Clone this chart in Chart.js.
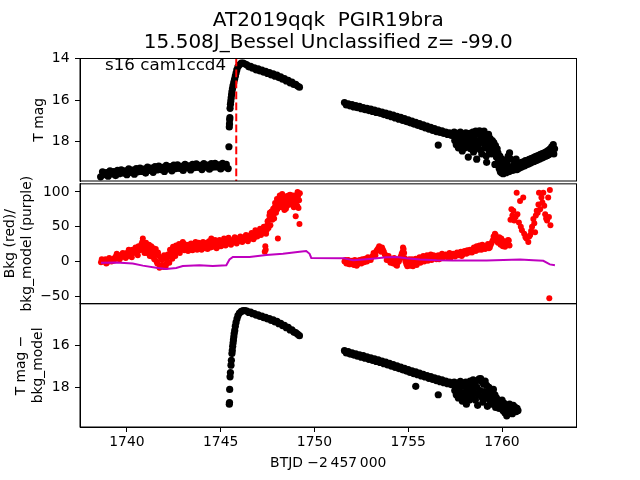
<!DOCTYPE html>
<html>
<head>
<meta charset="utf-8">
<script src="https://cdn.jsdelivr.net/npm/chart.js@4.4.1/dist/chart.umd.min.js"></script>
<style>
  body { margin: 0; background: #fff; }
  #wrap { position: relative; width: 640px; height: 480px; overflow: hidden; }
  canvas { position: absolute; left: 0; }
</style>
</head>
<body>
<div id="wrap">
  <canvas id="c2" width="640" height="150" style="top:170px"></canvas>
  <canvas id="c3" width="640" height="190" style="top:290px"></canvas>
  <canvas id="c1" width="640" height="195" style="top:0px"></canvas>
</div>
<script>
// ---- data: [BTJD-2457000, value] ----
const peakDay = 1745.83;   // red dashed marker in the top panel

// T mag before the outburst
const quiet = [[1738.6, 19.7], [1738.7, 19.46], [1738.8, 19.6], [1738.9, 19.5], [1739.0, 19.67],
  [1739.1, 19.41], [1739.2, 19.56], [1739.3, 19.45], [1739.4, 19.64], [1739.5, 19.39],
  [1739.6, 19.55], [1739.7, 19.36], [1739.8, 19.52], [1739.9, 19.41], [1740.0, 19.6],
  [1740.1, 19.32], [1740.2, 19.48], [1740.3, 19.37], [1740.4, 19.57], [1740.5, 19.3],
  [1740.6, 19.46], [1740.7, 19.28], [1740.8, 19.44], [1740.9, 19.33], [1741.0, 19.52],
  [1741.1, 19.23], [1741.2, 19.39], [1741.3, 19.28], [1741.4, 19.48], [1741.5, 19.21],
  [1741.6, 19.37], [1741.7, 19.18], [1741.8, 19.35], [1741.9, 19.24], [1742.0, 19.44],
  [1742.1, 19.15], [1742.2, 19.32], [1742.3, 19.21], [1742.4, 19.41], [1742.5, 19.14],
  [1742.6, 19.3], [1742.7, 19.12], [1742.8, 19.29], [1742.9, 19.19], [1743.0, 19.39],
  [1743.1, 19.1], [1743.2, 19.27], [1743.3, 19.17], [1743.4, 19.37], [1743.5, 19.1],
  [1743.6, 19.26], [1743.7, 19.07], [1743.8, 19.25], [1743.9, 19.15], [1744.0, 19.35],
  [1744.1, 19.06], [1744.2, 19.23], [1744.3, 19.13], [1744.4, 19.33], [1744.5, 19.06],
  [1744.6, 19.23], [1744.7, 19.05], [1744.8, 19.22], [1744.9, 19.12], [1745.0, 19.32],
  [1745.1, 19.05], [1745.2, 19.22], [1745.3, 19.1], [1745.4, 19.3]];

// T mag rise and first decline
const rise = [[1745.44, 18.25], [1745.46, 17.3], [1745.47, 17.15], [1745.48, 16.95], [1745.49, 16.85],
  [1745.5, 16.4], [1745.52, 16.2], [1745.54, 16.05], [1745.56, 15.9], [1745.58, 15.75],
  [1745.6, 15.6], [1745.63, 15.45], [1745.66, 15.3], [1745.7, 15.15], [1745.74, 15.0],
  [1745.78, 14.85], [1745.82, 14.7], [1745.86, 14.55], [1745.92, 14.4], [1746.0, 14.3],
  [1746.1, 14.22], [1746.2, 14.22], [1746.3, 14.27]];
const fade = [[1746.4, 14.3], [1746.5, 14.4], [1746.6, 14.38], [1746.7, 14.47], [1746.8, 14.45],
  [1746.9, 14.55], [1747.0, 14.5], [1747.1, 14.6], [1747.2, 14.56], [1747.3, 14.66],
  [1747.4, 14.62], [1747.5, 14.72], [1747.6, 14.68], [1747.7, 14.79], [1747.8, 14.74],
  [1747.9, 14.85], [1748.0, 14.8], [1748.1, 14.92], [1748.2, 14.88], [1748.3, 15.0],
  [1748.4, 14.97], [1748.5, 15.08], [1748.6, 15.05], [1748.7, 15.17], [1748.8, 15.14],
  [1748.9, 15.25], [1749.0, 15.24], [1749.1, 15.33], [1749.2, 15.38]];

// T mag second orbit, smooth part
const orbit2 = [[1751.6, 16.12], [1751.7, 16.24], [1751.8, 16.18], [1751.9, 16.28], [1752.0, 16.22],
  [1752.1, 16.33], [1752.2, 16.27], [1752.3, 16.37], [1752.4, 16.31], [1752.5, 16.42],
  [1752.6, 16.36], [1752.7, 16.46], [1752.8, 16.4], [1752.9, 16.51], [1753.0, 16.44],
  [1753.1, 16.55], [1753.2, 16.49], [1753.3, 16.6], [1753.4, 16.53], [1753.5, 16.64],
  [1753.6, 16.58], [1753.7, 16.7], [1753.8, 16.63], [1753.9, 16.75], [1754.0, 16.68],
  [1754.1, 16.8], [1754.2, 16.73], [1754.3, 16.86], [1754.4, 16.79], [1754.5, 16.92],
  [1754.6, 16.84], [1754.7, 16.98], [1754.8, 16.9], [1754.9, 17.04], [1755.0, 16.96],
  [1755.1, 17.1], [1755.2, 17.02], [1755.3, 17.16], [1755.4, 17.08], [1755.5, 17.22],
  [1755.6, 17.14], [1755.7, 17.28], [1755.8, 17.2], [1755.9, 17.34], [1756.0, 17.26],
  [1756.1, 17.4], [1756.2, 17.32], [1756.3, 17.46], [1756.4, 17.38], [1756.5, 17.52],
  [1756.6, 17.44], [1756.6, 18.17], [1756.7, 17.56], [1756.8, 17.49], [1756.9, 17.61],
  [1757.0, 17.54], [1757.1, 17.66], [1757.2, 17.58], [1757.3, 17.7], [1757.4, 17.62]];

// T mag second orbit, noisy end
const scatterEnd = [[1757.45, 17.55], [1757.48, 17.95], [1757.52, 17.72], [1757.56, 18.15], [1757.6, 17.6],
  [1757.63, 17.85], [1757.67, 18.3], [1757.7, 17.68], [1757.74, 18.0], [1757.78, 17.55],
  [1757.81, 18.2], [1757.85, 17.8], [1757.88, 18.45], [1757.92, 17.65], [1757.96, 18.05],
  [1758.0, 17.75], [1758.03, 18.3], [1758.07, 17.58], [1758.11, 17.95], [1758.15, 18.15],
  [1758.18, 17.7], [1758.2, 18.75], [1758.24, 18.0], [1758.28, 17.6], [1758.32, 18.35],
  [1758.36, 17.85], [1758.4, 18.1], [1758.44, 17.55], [1758.48, 18.5], [1758.52, 17.75],
  [1758.56, 18.2], [1758.6, 17.5], [1758.63, 17.95], [1758.65, 18.85], [1758.68, 18.3],
  [1758.72, 17.62], [1758.76, 18.1], [1758.8, 17.48], [1758.84, 18.4], [1758.88, 17.8],
  [1758.92, 18.6], [1758.96, 17.6], [1759.0, 18.05], [1759.04, 17.5], [1759.08, 18.3],
  [1759.12, 17.7], [1759.16, 18.7], [1759.18, 19.0], [1759.2, 17.9], [1759.24, 18.2],
  [1759.28, 17.65], [1759.32, 18.45], [1759.36, 17.85], [1759.4, 18.1], [1759.44, 18.6],
  [1759.48, 17.95], [1759.52, 18.3], [1759.56, 18.05], [1759.6, 18.5], [1759.62, 19.1],
  [1759.65, 18.2], [1759.7, 18.75], [1759.74, 18.35], [1759.78, 18.55],
  [1759.82, 18.9], [1759.85, 19.3], [1759.88, 18.7], [1759.91, 19.45], [1759.94, 19.05],
  [1759.97, 19.5], [1760.0, 18.85], [1760.03, 19.35], [1760.06, 19.55], [1760.09, 19.15],
  [1760.12, 18.95], [1760.15, 19.45], [1760.18, 19.25], [1760.21, 19.5], [1760.24, 19.05],
  [1760.27, 19.4], [1760.3, 19.2], [1760.33, 18.7], [1760.36, 19.45], [1760.4, 18.55],
  [1760.43, 19.3], [1760.46, 18.85], [1760.5, 19.4],
  [1760.55, 19.2], [1760.6, 19.38], [1760.65, 19.1], [1760.7, 19.3], [1760.75, 18.85],
  [1760.8, 19.35], [1760.85, 19.12], [1760.9, 19.28], [1760.95, 19.05], [1761.0, 19.25],
  [1761.05, 19.0], [1761.1, 19.2], [1761.15, 18.98], [1761.2, 19.16], [1761.25, 18.92],
  [1761.3, 19.12], [1761.35, 18.9], [1761.4, 19.08], [1761.45, 18.86], [1761.5, 19.05],
  [1761.55, 18.82], [1761.6, 19.0], [1761.65, 18.78], [1761.7, 18.96], [1761.75, 18.74],
  [1761.8, 18.92], [1761.85, 18.7], [1761.9, 18.88], [1761.95, 18.66], [1762.0, 18.84],
  [1762.05, 18.62], [1762.1, 18.8], [1762.15, 18.58], [1762.2, 18.76], [1762.25, 18.54],
  [1762.3, 18.72], [1762.35, 18.5], [1762.4, 18.68], [1762.45, 18.44], [1762.5, 18.62],
  [1762.55, 18.36], [1762.6, 18.55], [1762.65, 18.25], [1762.7, 18.45], [1762.73, 18.15],
  [1762.76, 18.6], [1762.8, 18.35]];

// Bkg (red)
const bkg1 = [[1738.62, -1], [1738.66, 3], [1738.7, 2], [1738.78, 0], [1738.86, 3], [1738.9, -3],
  [1738.94, -2], [1739.02, 1], [1739.06, 5], [1739.1, 3], [1739.18, 0], [1739.26, 2], [1739.3, 1],
  [1739.34, 5], [1739.42, 8], [1739.46, 11], [1739.5, 4], [1739.58, 9], [1739.62, 3], [1739.66, 6],
  [1739.74, 10], [1739.78, 12], [1739.82, 7], [1739.9, 9], [1739.94, 5], [1739.98, 12], [1740.06, 8],
  [1740.1, 17], [1740.14, 14], [1740.22, 10], [1740.26, 6], [1740.3, 17], [1740.38, 12], [1740.42, 15],
  [1740.46, 20], [1740.54, 14], [1740.58, 9], [1740.62, 22], [1740.7, 16], [1740.74, 19], [1740.78, 25],
  [1740.82, 28], [1740.85, 33], [1740.9, 18], [1740.94, 12], [1740.98, 24], [1741.02, 27], [1741.06, 12],
  [1741.1, 16], [1741.14, 20], [1741.18, 24], [1741.22, 8], [1741.26, 14], [1741.3, 22], [1741.34, 7],
  [1741.38, 14], [1741.42, 19], [1741.46, 3], [1741.5, 10], [1741.54, 18], [1741.58, 0], [1741.62, -3],
  [1741.66, 13], [1741.7, 8], [1741.74, -9], [1741.78, -6], [1741.82, 5], [1741.86, 2], [1741.9, -5],
  [1741.94, -8], [1741.98, 9], [1742.02, 5], [1742.06, -8], [1742.1, -4], [1742.14, 1], [1742.18, 10],
  [1742.22, 7], [1742.26, -2], [1742.3, 17], [1742.34, 14], [1742.38, 9], [1742.42, 4], [1742.46, 21],
  [1742.5, 18], [1742.54, 12], [1742.58, 8], [1742.62, 23], [1742.66, 15], [1742.7, 16], [1742.74, 20],
  [1742.78, 25], [1742.82, 12], [1742.86, 17], [1742.9, 22], [1742.94, 23], [1742.98, 28], [1743.02, 26],
  [1743.06, 16], [1743.1, 19], [1743.14, 21], [1743.18, 24], [1743.22, 18], [1743.26, 15], [1743.3, 24],
  [1743.34, 21], [1743.38, 17], [1743.42, 26], [1743.46, 22], [1743.5, 16], [1743.54, 19], [1743.58, 22],
  [1743.62, 25], [1743.66, 28], [1743.7, 20], [1743.74, 17], [1743.78, 23], [1743.82, 27], [1743.86, 18],
  [1743.9, 21], [1743.94, 26], [1743.98, 17], [1744.02, 21], [1744.06, 28], [1744.1, 24], [1744.14, 22],
  [1744.18, 19], [1744.22, 24], [1744.26, 27], [1744.3, 18], [1744.34, 22], [1744.38, 29], [1744.42, 25],
  [1744.46, 20], [1744.5, 33], [1744.54, 28], [1744.58, 21], [1744.62, 24], [1744.66, 26], [1744.7, 31],
  [1744.74, 23], [1744.78, 19], [1744.82, 28], [1744.86, 25], [1744.9, 22], [1744.94, 31], [1744.98, 27],
  [1745.02, 22], [1745.06, 24], [1745.1, 28], [1745.14, 29], [1745.18, 33], [1745.22, 25], [1745.26, 23],
  [1745.3, 30], [1745.34, 29], [1745.38, 26], [1745.42, 34], [1745.46, 31], [1745.55, 24], [1745.6, 27],
  [1745.65, 30], [1745.7, 32], [1745.75, 35], [1745.8, 28], [1745.85, 26], [1745.9, 33], [1745.95, 31],
  [1746.0, 29], [1746.05, 36], [1746.1, 34], [1746.15, 28], [1746.2, 30], [1746.25, 33], [1746.3, 36],
  [1746.35, 38], [1746.4, 31], [1746.45, 29], [1746.5, 37], [1746.55, 34], [1746.6, 33], [1746.65, 41],
  [1746.7, 39], [1746.75, 32], [1746.8, 35], [1746.85, 45], [1746.9, 42], [1746.95, 36], [1747.0, 38],
  [1747.05, 44], [1747.1, 47], [1747.15, 38], [1747.2, 41], [1747.25, 46], [1747.3, 50], [1747.35, 14],
  [1747.38, 22], [1747.4, 17], [1747.42, 40], [1747.45, 45], [1747.48, 52], [1747.5, 58], [1747.55, 48],
  [1747.58, 60], [1747.6, 66], [1747.62, 70], [1747.65, 52], [1747.7, 72], [1747.72, 65], [1747.75, 60],
  [1747.8, 76], [1747.82, 68], [1747.85, 62], [1747.88, 78], [1747.9, 84], [1747.95, 70], [1747.98, 82],
  [1748.0, 90], [1748.02, 75], [1748.05, 33], [1748.08, 90], [1748.1, 80], [1748.12, 86], [1748.15, 95],
  [1748.18, 80], [1748.2, 86], [1748.25, 78], [1748.28, 97], [1748.3, 92], [1748.35, 84], [1748.38, 92],
  [1748.4, 74], [1748.42, 82], [1748.45, 88], [1748.48, 76], [1748.5, 94], [1748.55, 80], [1748.58, 86],
  [1748.6, 90], [1748.62, 95], [1748.65, 86], [1748.68, 90], [1748.7, 96], [1748.75, 82], [1748.78, 88],
  [1748.8, 92], [1748.82, 95], [1748.85, 88], [1748.88, 84], [1748.9, 78], [1748.95, 95], [1748.98, 92],
  [1749.0, 65], [1749.02, 86], [1749.05, 90], [1749.08, 80], [1749.1, 100], [1749.12, 94], [1749.15, 77],
  [1749.18, 88], [1749.2, 54], [1749.22, 98]];
const bkg2 = [[1751.6, 0], [1751.65, 2], [1751.7, -3], [1751.75, -1], [1751.8, 2], [1751.85, -4],
  [1751.9, -4], [1751.95, 0], [1752.0, 1], [1752.05, -3], [1752.1, -5], [1752.15, 2], [1752.2, -1],
  [1752.25, -6], [1752.3, -4], [1752.35, 0], [1752.4, 2], [1752.45, -2], [1752.5, -3], [1752.55, 3],
  [1752.6, 1], [1752.65, -1], [1752.7, 4], [1752.75, 2], [1752.8, 0], [1752.85, 6], [1752.9, 5],
  [1752.95, 3], [1753.0, 2], [1753.05, 6], [1753.1, 8], [1753.15, 12], [1753.2, 11], [1753.25, 9],
  [1753.3, 15], [1753.35, 17], [1753.4, 19], [1753.45, 22], [1753.5, 17], [1753.55, 14], [1753.6, 20],
  [1753.65, 17], [1753.7, 14], [1753.75, 10], [1753.8, 9], [1753.85, 2], [1753.9, 5], [1753.95, 8],
  [1754.0, 1], [1754.05, -2], [1754.1, 4], [1754.15, 0], [1754.2, -3], [1754.25, 5], [1754.3, 2],
  [1754.35, -5], [1754.4, -6], [1754.45, -1], [1754.5, 0], [1754.55, 3], [1754.6, 7], [1754.65, 11],
  [1754.7, 14], [1754.72, 20], [1754.75, 18], [1754.78, 12], [1754.8, 5], [1754.85, 0], [1754.9, -4],
  [1754.95, -7], [1755.0, 1], [1755.05, 3], [1755.1, -6], [1755.15, -3], [1755.2, 3], [1755.25, -7],
  [1755.3, -3], [1755.35, 1], [1755.4, 4], [1755.45, -5], [1755.5, -1], [1755.55, 2], [1755.6, 6],
  [1755.65, -2], [1755.7, 2], [1755.75, 5], [1755.8, 8], [1755.85, 0], [1755.9, 3], [1755.95, 6],
  [1756.0, 9], [1756.05, 1], [1756.1, 4], [1756.15, 7], [1756.2, 10], [1756.25, 2], [1756.3, 5],
  [1756.35, 9], [1756.4, 7], [1756.45, 5], [1756.5, 3], [1756.55, 6], [1756.6, 9], [1756.65, 3],
  [1756.7, 6], [1756.75, 8], [1756.8, 11], [1756.85, 5], [1756.9, 7], [1756.95, 9], [1757.0, 10],
  [1757.05, 8], [1757.1, 6], [1757.15, 9], [1757.2, 12], [1757.25, 5], [1757.3, 8], [1757.35, 10],
  [1757.4, 11], [1757.45, 9], [1757.5, 7], [1757.55, 10], [1757.6, 13], [1757.65, 11], [1757.7, 9],
  [1757.75, 12], [1757.8, 14], [1757.85, 8], [1757.9, 10], [1757.95, 13], [1758.0, 15], [1758.05, 12],
  [1758.1, 11], [1758.15, 16], [1758.2, 14], [1758.25, 13], [1758.3, 17], [1758.35, 15], [1758.4, 13],
  [1758.45, 17], [1758.5, 20], [1758.55, 18], [1758.6, 15], [1758.65, 22], [1758.7, 19], [1758.75, 17],
  [1758.8, 23], [1758.85, 20], [1758.9, 17], [1758.95, 24], [1759.0, 21], [1759.05, 19], [1759.1, 18],
  [1759.15, 21], [1759.2, 22], [1759.25, 25], [1759.3, 19], [1759.35, 20], [1759.4, 24], [1759.45, 27],
  [1759.5, 30], [1759.55, 36], [1759.58, 31], [1759.62, 40], [1759.66, 38], [1759.7, 33], [1759.74, 30],
  [1759.78, 27], [1759.85, 35], [1759.88, 28], [1759.92, 24], [1759.96, 33], [1760.0, 30], [1760.04, 22],
  [1760.08, 26], [1760.12, 29], [1760.16, 21], [1760.2, 24], [1760.24, 28], [1760.28, 27], [1760.32, 31],
  [1760.36, 30], [1760.4, 23], [1760.45, 60], [1760.5, 75], [1760.55, 66], [1760.6, 73], [1760.65, 59],
  [1760.72, 64], [1760.78, 99], [1760.82, 68], [1760.9, 56], [1760.96, 87], [1761.0, 50], [1761.06, 45],
  [1761.13, 92], [1761.18, 40], [1761.25, 35], [1761.3, 33], [1761.4, 28], [1761.45, 36], [1761.5, 38],
  [1761.55, 44], [1761.6, 50], [1761.67, 61], [1761.72, 55], [1761.76, 42], [1761.8, 66], [1761.85, 73],
  [1761.9, 70], [1761.94, 82], [1761.97, 99], [1762.03, 75], [1762.1, 92], [1762.15, 85], [1762.2, 99],
  [1762.25, 80], [1762.3, 68], [1762.35, 62], [1762.4, 59], [1762.46, 92], [1762.5, 64], [1762.52, -53],
  [1762.55, 103], [1762.58, 52]];

// bkg_model (purple)
const model = [[1738.62, -2], [1739.42, -1.5], [1740.31, -3], [1740.85, -6], [1741.56, -9],
  [1742.09, -11], [1742.63, -9.5], [1742.98, -6.6], [1743.87, -5.6], [1744.58, -6.6],
  [1745.3, -5.6], [1745.47, 2.8], [1745.65, 6.5], [1746.54, 6.5], [1747.43, 9.4],
  [1748.32, 11.2], [1749.21, 14], [1749.56, 15], [1749.74, 11], [1749.83, 5],
  [1751.6, 4.5], [1751.7, 3.7], [1752.06, 1.8], [1752.95, 3.7], [1753.84, 6],
  [1754.38, 6.5], [1754.9, 4.6], [1755.62, 2.8], [1756.51, 1.8], [1757.39, 1.4],
  [1759.18, 1.4], [1760.96, 2.8], [1761.67, 1.8], [1762.2, 0.9], [1762.55, -4.2], [1762.82, -5.6]];

// T mag - bkg_model
const subRise = [[1745.46, 18.8], [1745.47, 18.72], [1745.48, 18.1], [1745.5, 17.5], [1745.52, 17.3],
  [1745.55, 16.95], [1745.57, 16.72], [1745.6, 16.4], [1745.62, 16.25], [1745.64, 16.05],
  [1745.66, 15.9], [1745.68, 15.75], [1745.7, 15.6], [1745.72, 15.45], [1745.75, 15.3],
  [1745.78, 15.1], [1745.82, 14.92], [1745.87, 14.75], [1745.92, 14.6], [1746.0, 14.48],
  [1746.1, 14.4], [1746.2, 14.36], [1746.3, 14.36],
  [1746.4, 14.38], [1746.5, 14.45], [1746.6, 14.43], [1746.7, 14.51], [1746.8, 14.5],
  [1746.9, 14.58], [1747.0, 14.56], [1747.1, 14.64], [1747.2, 14.62], [1747.3, 14.7],
  [1747.4, 14.68], [1747.5, 14.76], [1747.6, 14.74], [1747.7, 14.83], [1747.8, 14.8],
  [1747.9, 14.9], [1748.0, 14.87], [1748.1, 14.98], [1748.2, 14.96], [1748.3, 15.07],
  [1748.4, 15.06], [1748.5, 15.17], [1748.6, 15.16], [1748.7, 15.28], [1748.8, 15.27],
  [1748.9, 15.38], [1749.0, 15.4], [1749.1, 15.48], [1749.2, 15.55]];
const subOrbit2 = [[1751.6, 16.26], [1751.7, 16.37], [1751.8, 16.31], [1751.9, 16.42], [1752.0, 16.36],
  [1752.1, 16.47], [1752.2, 16.41], [1752.3, 16.52], [1752.4, 16.46], [1752.5, 16.57],
  [1752.6, 16.5], [1752.7, 16.62], [1752.8, 16.55], [1752.9, 16.67], [1753.0, 16.6],
  [1753.1, 16.72], [1753.2, 16.65], [1753.3, 16.77], [1753.4, 16.7], [1753.5, 16.82],
  [1753.6, 16.75], [1753.7, 16.88], [1753.8, 16.8], [1753.9, 16.93], [1754.0, 16.86],
  [1754.1, 16.99], [1754.2, 16.92], [1754.3, 17.05], [1754.4, 16.98], [1754.5, 17.11],
  [1754.6, 17.04], [1754.7, 17.17], [1754.8, 17.1], [1754.9, 17.23], [1755.0, 17.16],
  [1755.1, 17.29], [1755.2, 17.22], [1755.3, 17.35], [1755.4, 17.27], [1755.4, 17.95],
  [1755.5, 17.4], [1755.6, 17.33], [1755.7, 17.46], [1755.8, 17.38], [1755.9, 17.51],
  [1756.0, 17.44], [1756.1, 17.57], [1756.2, 17.49], [1756.3, 17.62], [1756.4, 17.55],
  [1756.5, 17.68], [1756.6, 17.6], [1756.6, 18.35], [1756.7, 17.73], [1756.8, 17.65],
  [1756.9, 17.78], [1757.0, 17.7], [1757.1, 17.83], [1757.2, 17.75], [1757.3, 17.87], [1757.4, 17.8]];
const subScatter = [[1757.45, 17.75], [1757.48, 18.15], [1757.52, 17.9], [1757.56, 18.35], [1757.6, 17.8],
  [1757.63, 18.05], [1757.67, 18.5], [1757.7, 17.85], [1757.74, 18.2], [1757.78, 17.72],
  [1757.81, 18.4], [1757.85, 17.95], [1757.88, 18.65], [1757.92, 17.8], [1757.96, 18.25],
  [1758.0, 17.9], [1758.03, 18.5], [1758.07, 17.75], [1758.1, 18.8], [1758.14, 18.1],
  [1758.18, 18.3], [1758.22, 17.85], [1758.26, 18.6], [1758.3, 17.7], [1758.34, 18.15],
  [1758.38, 17.95], [1758.42, 18.45], [1758.46, 17.65], [1758.5, 18.25], [1758.54, 17.8],
  [1758.58, 18.6], [1758.62, 17.7], [1758.66, 18.0], [1758.7, 18.85], [1758.74, 18.35],
  [1758.78, 17.6], [1758.82, 18.15], [1758.86, 17.58], [1758.9, 18.45], [1758.94, 17.75],
  [1758.98, 18.7], [1759.02, 17.85], [1759.06, 18.2], [1759.1, 17.7], [1759.14, 18.5],
  [1759.18, 17.9], [1759.22, 18.9], [1759.26, 18.3], [1759.3, 18.0], [1759.34, 18.6],
  [1759.38, 18.15], [1759.42, 18.8], [1759.46, 18.3], [1759.5, 18.55], [1759.54, 18.1],
  [1759.58, 18.7], [1759.62, 18.35], [1759.66, 18.95], [1759.7, 18.5], [1759.75, 18.8],
  [1759.8, 18.6], [1759.85, 19.0], [1759.9, 18.7], [1759.95, 18.9], [1760.0, 18.6],
  [1760.05, 19.1], [1760.1, 18.75], [1760.15, 19.2], [1760.2, 18.85], [1760.25, 19.35],
  [1760.3, 18.95], [1760.35, 19.1], [1760.4, 18.8], [1760.45, 19.2], [1760.5, 18.9],
  [1760.55, 19.25], [1760.6, 18.85], [1760.65, 19.05], [1760.7, 18.95], [1760.75, 19.15],
  [1760.8, 19.0], [1760.85, 19.1]];

function pts(list) {
  return list.map(p => ({ x: p[0], y: p[1] }));
}

// ---- shared styling ----
const FONT = 'DejaVu Sans';
const xMin = 1737.5, xMax = 1763.97;

const frame = {
  id: 'frame',
  afterDatasetsDraw(chart) {
    const a = chart.chartArea, ctx = chart.ctx;
    ctx.save();
    ctx.strokeStyle = '#000';
    ctx.lineWidth = 1;
    ctx.strokeRect(a.left, a.top, a.right - a.left, a.bottom - a.top);
    ctx.restore();
  }
};

function yScale(min, max, reverse, title, titlePad) {
  return {
    min: min, max: max, reverse: reverse,
    afterFit: s => { s.width = 80; },
    border: { display: true, color: '#000', width: 1 },
    grid: { drawOnChartArea: false, drawTicks: true, tickLength: 5, color: '#000' },
    ticks: {
      stepSize: reverse ? 2 : 50, includeBounds: false, padding: 5.5, color: '#000',
      font: { family: FONT, size: 13.9 },
      callback: v => String(v).replace('-', '\u2212')
    },
    title: {
      display: true, text: title, color: '#000',
      font: { family: FONT, size: 13.9, lineHeight: 1.26 },
      padding: { top: titlePad, bottom: 0 }
    }
  };
}

function xScale(show) {
  const s = {
    type: 'linear', min: xMin, max: xMax, display: show,
    border: { display: true, color: '#000', width: 1 },
    grid: { drawOnChartArea: false, drawTicks: true, tickLength: 5, color: '#000' },
    ticks: {
      stepSize: 5, includeBounds: false, padding: 2.5, color: '#000', maxRotation: 0,
      font: { family: FONT, size: 13.9 },
      callback: v => String(v)
    }
  };
  if (show) {
    s.afterFit = sc => { sc.height = 53; };
    s.title = {
      display: true, text: 'BTJD \u22122\u2009457\u2009000', color: '#000',
      font: { family: FONT, size: 13.9 }, padding: { top: 0, bottom: 8 }
    };
  }
  return s;
}

const baseOpts = (pad) => ({
  responsive: false, animation: false, events: [],
  layout: { autoPadding: false, padding: pad },
  plugins: { legend: { display: false }, tooltip: { enabled: false } }
});

const dots = (list, color, r) => ({
  data: pts(list), backgroundColor: color, borderColor: color, pointRadius: r, borderWidth: 0
});

// ---- panel 1: T mag ----
const label = {
  id: 'label',
  afterDraw(chart) {
    const ctx = chart.ctx;
    ctx.save();
    ctx.fillStyle = '#000';
    ctx.font = '16.7px "DejaVu Sans"';
    ctx.textBaseline = 'alphabetic';
    ctx.fillText('s16 cam1ccd4', 105, 70);
    ctx.restore();
  }
};

const o1 = baseOpts({ left: 0, right: 63.5, top: 0, bottom: 14 });
o1.plugins.title = {
  display: true, fullSize: false,
  text: ['AT2019qqk  PGIR19bra', '15.508J_Bessel Unclassified z= -99.0'],
  color: '#000', font: { family: FONT, size: 20, weight: 'normal', lineHeight: 1.12 },
  padding: { top: 9.3, bottom: 4.4 }
};
o1.scales = { x: xScale(false), y: yScale(14, 19.9, true, 'T mag', 30.25) };

new Chart(document.getElementById('c1'), {
  type: 'scatter',
  data: {
    datasets: [
      {
        data: [{ x: peakDay, y: 14 }, { x: peakDay, y: 19.9 }],
        showLine: true, borderColor: '#ff0000', borderWidth: 2, borderDash: [7.7, 3.3],
        pointRadius: 0
      },
      dots(quiet, '#000', 3.6),
      dots(rise, '#000', 3.6),
      dots(fade, '#000', 3.6),
      dots(orbit2, '#000', 3.6),
      dots(scatterEnd, '#000', 3.6)
    ]
  },
  options: o1,
  plugins: [frame, label]
});

// ---- panel 2: background ----
const o2 = baseOpts({ left: 0, right: 63.5, top: 11, bottom: 16.5 });
o2.scales = { x: xScale(false), y: yScale(-60.5, 111.7, false, ['Bkg (red)/', 'bkg_model (purple)'], 1.3) };

new Chart(document.getElementById('c2'), {
  type: 'scatter',
  data: {
    datasets: [
      {
        data: pts(model),
        showLine: true, borderColor: '#bf00bf', borderWidth: 2, pointRadius: 0
      },
      dots(bkg1, '#ff0000', 3),
      dots(bkg2, '#ff0000', 3)
    ]
  },
  options: o2,
  plugins: [frame]
});

// ---- panel 3: T mag - bkg_model ----
const o3 = baseOpts({ left: 0, right: 63.5, top: 13.5, bottom: 0 });
o3.scales = { x: xScale(true), y: yScale(14.04, 19.88, true, ['T mag \u2212', 'bkg_model'], 12.25) };

new Chart(document.getElementById('c3'), {
  type: 'scatter',
  data: {
    datasets: [
      dots(subRise, '#000', 3.6),
      dots(subOrbit2, '#000', 3.6),
      dots(subScatter, '#000', 3.6)
    ]
  },
  options: o3,
  plugins: [frame]
});
</script>
</body>
</html>
